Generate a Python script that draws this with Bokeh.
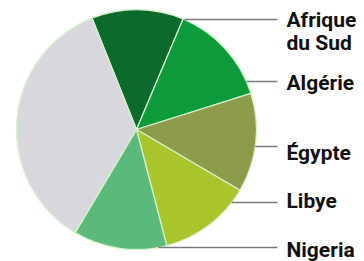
import math
from bokeh.plotting import figure
from bokeh.models import Range1d, ColumnDataSource
from bokeh.core.properties import value
from bokeh.embed import file_html
from bokeh.resources import INLINE

# ---- data ----
countries = ["Afrique du Sud", "Algérie", "Égypte", "Libye", "Nigeria", "Autres"]
shares = [12.4, 13.8, 13.3, 12.5, 12.6, 35.4]
label_lines = [["Afrique", "du Sud"], ["Algérie"], ["Égypte"], ["Libye"], ["Nigeria"], []]

# ---- style / layout ----
colors = ["#0b6a2c", "#0d9a3b", "#8c9c4a", "#a9c52b", "#5bb97c", "#d8d8dc"]
W, H = 364, 261
cx, cy_px, R = 136, 129, 120
start_bearing = -21.8          # degrees clockwise from top
leader_y_px = [19, 81, 146, 202, 247]
text_baseline_px = [19, 82, 152, 200, 249]
line_gap = 23
leader_end_x = 277
text_x = 286

def Y(py):
    return H - py

p = figure(width=W, height=H, output_backend="svg", toolbar_location=None,
           x_range=Range1d(0, W), y_range=Range1d(0, H),
           min_border=0, background_fill_color="white", border_fill_color="white")
p.axis.visible = False
p.grid.visible = False
p.outline_line_color = None

total = sum(shares)
starts, ends = [], []
b = start_bearing
for s in shares:
    b2 = b + 360.0 * s / total
    starts.append(math.radians(90 - b))
    ends.append(math.radians(90 - b2))
    b = b2

src = ColumnDataSource(dict(start=starts, end=ends, color=colors, name=countries))
p.wedge(x=cx, y=Y(cy_px), radius=R, start_angle="start", end_angle="end",
        direction="clock", fill_color="color", line_color="#d4f3cc",
        line_width=1.3, source=src)

# leader lines
x0s, x1s, ys = [], [], []
for ly in leader_y_px:
    dy = ly - cy_px
    dx = math.sqrt(max(R * R - dy * dy, 0))
    x0s.append(cx + dx)
    x1s.append(leader_end_x)
    ys.append(Y(ly))
p.segment(x0=x0s, y0=ys, x1=x1s, y1=ys, line_color="#7a7a7a", line_width=1.3)

# labels
tx, ty, tt = [], [], []
for lines, base in zip(label_lines, text_baseline_px):
    for k, t in enumerate(lines):
        tx.append(text_x)
        ty.append(Y(base + k * line_gap))
        tt.append(t)
p.text(x=tx, y=ty, text=tt,
       text_font=value("Roboto"),
       text_font_style="bold", text_font_size="21px", text_color="#111111",
       text_baseline="alphabetic", text_align="left")

open("out.html", "w").write(file_html(p, INLINE))
